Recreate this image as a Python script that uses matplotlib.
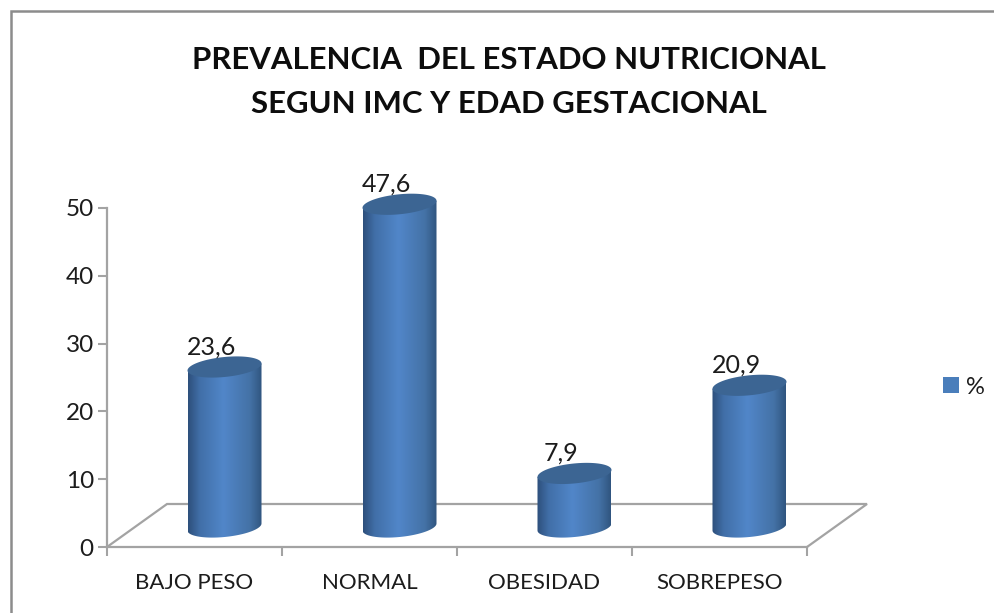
import numpy as np
import matplotlib
matplotlib.use("Agg")
import matplotlib.pyplot as plt
from matplotlib.colors import LinearSegmentedColormap
from matplotlib.lines import Line2D
from matplotlib.patches import Patch, Polygon

plt.rcParams["font.family"] = ["Lato", "DejaVu Sans"]

TITLE = "PREVALENCIA  DEL ESTADO NUTRICIONAL\nSEGUN IMC Y EDAD GESTACIONAL"
categories = ["BAJO PESO", "NORMAL", "OBESIDAD", "SOBREPESO"]
values = [23.6, 47.6, 7.9, 20.9]
labels = ["23,6", "47,6", "7,9", "20,9"]
yticks = [0, 10, 20, 30, 40, 50]
series_name = "%"

W, H = 994, 613
# plot box in pixels of the output image
LEFT, RIGHT, TOP, BOTTOM = 107, 807, 208, 547
PX_X = (RIGHT - LEFT) / 4   # px per category
PX_Y = (BOTTOM - TOP) / 50  # px per value unit

GRAY = "#a3a3a3"
TEXT = "#1c1c1c"

fig = plt.figure(figsize=(W / 100, H / 100), dpi=100, facecolor="white")

# outer chart frame, only left and top reach into the crop
fx, fy = 10.5 / W, 1 - 11 / H
fig.add_artist(Line2D([fx, fx, 1], [0, fy, fy], transform=fig.transFigure,
                      color="#8c8c8c", linewidth=1.8, solid_joinstyle="miter"))

ax = fig.add_axes([LEFT / W, 1 - BOTTOM / H, (RIGHT - LEFT) / W, (BOTTOM - TOP) / H])
ax.set_facecolor("none")
ax.set_xlim(-0.5, 3.5)
ax.set_ylim(0, 50)
ax.set_autoscale_on(False)

for name in ("top", "right"):
    ax.spines[name].set_visible(False)
for name in ("left", "bottom"):
    ax.spines[name].set_color(GRAY)
    ax.spines[name].set_linewidth(1.6)

ax.set_yticks(yticks)
ax.set_xticks(range(len(categories)))
ax.set_xticklabels(categories)
ax.set_xticks(np.arange(-0.5, 4), minor=True)
ax.tick_params(axis="y", length=6.5, width=1.5, color=GRAY, labelsize=17.5, labelcolor=TEXT, pad=3)
ax.tick_params(axis="x", which="major", length=0, labelsize=16, labelcolor=TEXT, pad=19)
ax.tick_params(axis="x", which="minor", length=6.5, width=1.5, color=GRAY)

# floor of the 3d box
floor_dx = 60 / PX_X
floor_dy = 43 / PX_Y
ax.add_patch(Polygon([(-0.5, 0), (-0.5 + floor_dx, floor_dy), (3.5 + floor_dx, floor_dy), (3.5, 0)],
                     closed=False, fill=False, edgecolor=GRAY, linewidth=1.6, clip_on=False, zorder=1))

# cylinders
shade = LinearSegmentedColormap.from_list(
    "cyl", [(0, "#2d4f7b"), (0.16, "#416fa8"), (0.48, "#5186c9"), (0.84, "#4472a6"), (1, "#30557f")])
grad = np.linspace(0, 1, 256).reshape(1, -1)

shift_x = 30 / PX_X   # bars sit in the middle of the floor depth
y0 = 20 / PX_Y        # base ellipse centre, above the front edge of the floor
half_w = 37 / PX_X
half_h = 10 / PX_Y
tilt = 3.5 / PX_Y     # right side of the ellipses is higher than the left

for i, v in enumerate(values):
    cx = i + shift_x
    y1 = y0 + v
    t = np.linspace(0, 2 * np.pi, 120)
    ex, ey = np.cos(t), np.sin(t)

    # side: front arc of the base, then back along the top
    arc = np.linspace(np.pi, 2 * np.pi, 60)
    xs = cx + half_w * np.cos(arc)
    ys_low = y0 + half_h * np.sin(arc) + tilt * np.cos(arc)
    ys_high = y1 + tilt * np.cos(arc[::-1])
    body = Polygon(np.c_[np.r_[xs, xs[::-1]], np.r_[ys_low, ys_high]], closed=True,
                   facecolor="none", edgecolor="none")
    ax.add_patch(body)
    im = ax.imshow(grad, extent=[cx - half_w, cx + half_w, y0 - 3, y1 + 3], aspect="auto",
                   cmap=shade, zorder=3)
    im.set_clip_box(fig.bbox)  # tallest bar goes over the axes top
    im.set_clip_path(body)

    ax.add_patch(Polygon(np.c_[cx + half_w * ex, y1 + half_h * ey + tilt * ex], closed=True,
                         facecolor="#3c6593", edgecolor="none", clip_on=False, zorder=4))

    ax.annotate(labels[i], (cx, y1), xytext=(-13 * 0.72, 20 * 0.72), textcoords="offset points",
                ha="center", va="center", fontsize=18, color=TEXT, annotation_clip=False, zorder=5)

ax.set_xlim(-0.5, 3.5)
ax.set_ylim(0, 50)

fig.text(509 / W, 1 - 82 / H, TITLE, ha="center", va="center", fontsize=22.4, fontweight="bold",
         color="#0d0d0d", linespacing=1.68)

ax.legend(handles=[Patch(facecolor="#4a7ebb", label=series_name)], loc="center left",
          bbox_to_anchor=(921.5 / W, 1 - 387 / H), bbox_transform=fig.transFigure, frameon=False,
          fontsize=17, handlelength=0.68, handleheight=0.68, handletextpad=0.3,
          labelcolor=TEXT)

fig.savefig("out.png", dpi=100)
